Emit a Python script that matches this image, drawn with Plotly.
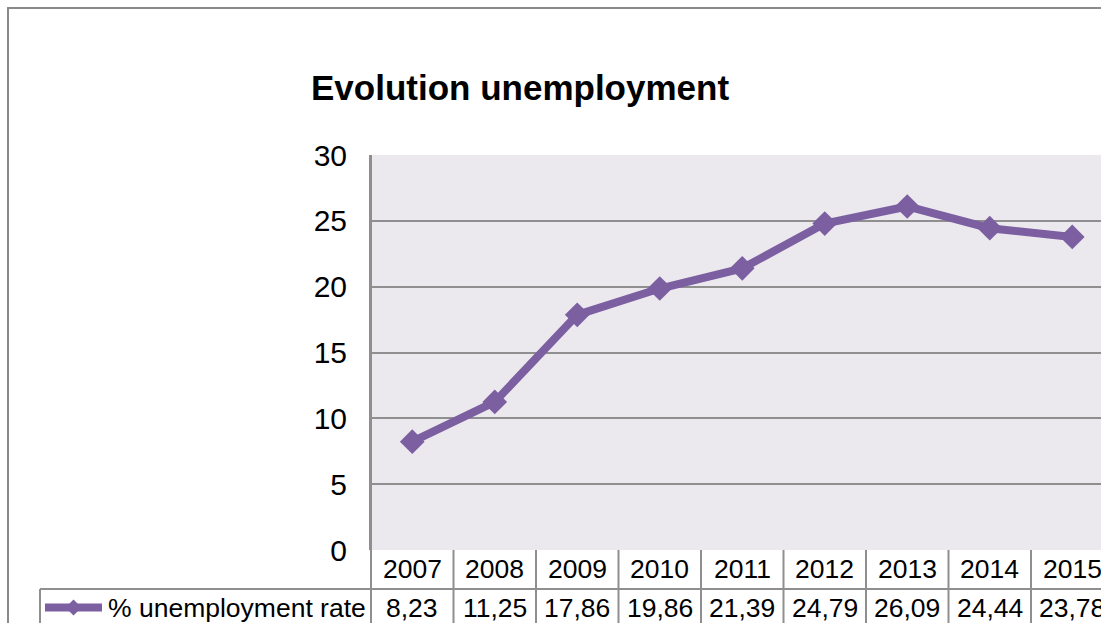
import plotly.graph_objects as go

# Data
years = ["2007", "2008", "2009", "2010", "2011", "2012", "2013", "2014", "2015"]
unemployment_rate = [8.23, 11.25, 17.86, 19.86, 21.39, 24.79, 26.09, 24.44, 23.78]
series_name = "% unemployment rate"
chart_title = "Evolution unemployment"
y_ticks = [0, 5, 10, 15, 20, 25, 30]

# Page and plot-area geometry (pixels)
W, H = 1101, 623
PLOT_L, PLOT_T, PLOT_B = 371, 155, 550
PLOT_R = W
ROW_H = 39            # height of one data-table row
LEGEND_CELL_L = 40    # left edge of the series-name cell
FRAME = 8             # outer chart frame offset
CELL_W = 82.5         # width of one category column

x_max = -0.5 + (PLOT_R - PLOT_L) / CELL_W

FONT = "Liberation Sans, Arial, sans-serif"
PURPLE = "#7C5FA1"
GRID = "#8F8F8F"
BG = "#EBE9EE"


def px_x(p):
    return (p - PLOT_L) / (PLOT_R - PLOT_L)


def px_y(p):
    return (PLOT_B - p) / (PLOT_B - PLOT_T)


fig = go.Figure()
fig.add_trace(go.Scatter(
    x=list(range(len(years))),
    y=unemployment_rate,
    mode="lines+markers",
    name=series_name,
    line=dict(color=PURPLE, width=8),
    marker=dict(symbol="diamond", size=19, color=PURPLE),
    cliponaxis=False,
    showlegend=False,
))

shapes = []
line_style = dict(color=GRID, width=2)

# Outer chart frame
shapes.append(dict(type="rect", xref="paper", yref="paper",
                   x0=px_x(FRAME), x1=1.5, y0=px_y(FRAME), y1=px_y(H + 100),
                   line=dict(color="#8A8A8A", width=2), fillcolor="rgba(0,0,0,0)",
                   layer="below"))

row1_bottom = PLOT_B + ROW_H
bottom_out = H + 50

# Data-table horizontal rule
shapes.append(dict(type="line", xref="paper", yref="paper",
                   x0=px_x(LEGEND_CELL_L), x1=1.2, y0=px_y(row1_bottom), y1=px_y(row1_bottom),
                   line=line_style))
# Left edges
shapes.append(dict(type="line", xref="paper", yref="paper",
                   x0=px_x(LEGEND_CELL_L), x1=px_x(LEGEND_CELL_L),
                   y0=px_y(row1_bottom), y1=px_y(bottom_out), line=line_style))
shapes.append(dict(type="line", xref="paper", yref="paper",
                   x0=0, x1=0, y0=1, y1=px_y(bottom_out), line=line_style))
# Column separators between categories
for k in range(len(years)):
    xb = k + 0.5
    shapes.append(dict(type="line", xref="x", yref="paper",
                       x0=xb, x1=xb, y0=0, y1=px_y(bottom_out), line=line_style))

# Legend key inside the series-name cell
key_x0, key_x1 = LEGEND_CELL_L + 5, LEGEND_CELL_L + 62
ky = row1_bottom + ROW_H / 2 - 1
key_y = px_y(ky)
shapes.append(dict(type="line", xref="paper", yref="paper",
                   x0=px_x(key_x0), x1=px_x(key_x1), y0=key_y, y1=key_y,
                   line=dict(color=PURPLE, width=8)))
kx = (key_x0 + key_x1) / 2
d = 8
shapes.append(dict(type="path", xref="paper", yref="paper",
                   path=(f"M {px_x(kx - d)} {px_y(ky)} L {px_x(kx)} {px_y(ky - d)} "
                         f"L {px_x(kx + d)} {px_y(ky)} L {px_x(kx)} {px_y(ky + d)} Z"),
                   fillcolor=PURPLE, line=dict(color=PURPLE, width=0)))

annotations = []
table_font = dict(family=FONT, size=26.5, color="#000000")
year_row_y = px_y(PLOT_B + ROW_H / 2 - 1)
value_row_y = px_y(row1_bottom + ROW_H / 2 - 1)
for k, (yr, val) in enumerate(zip(years, unemployment_rate)):
    annotations.append(dict(x=k, y=year_row_y, xref="x", yref="paper",
                            text=yr, showarrow=False, font=table_font,
                            xanchor="center", yanchor="middle"))
    annotations.append(dict(x=k, y=value_row_y, xref="x", yref="paper",
                            text=f"{val:.2f}".replace(".", ","), showarrow=False,
                            font=table_font, xanchor="center", yanchor="middle"))
annotations.append(dict(x=px_x(PLOT_L - 3), y=value_row_y,
                        xref="paper", yref="paper", text=series_name, showarrow=False,
                        font=table_font, xanchor="right", yanchor="middle"))

fig.update_layout(
    width=W, height=H, autosize=False,
    margin=dict(l=PLOT_L, r=W - PLOT_R, t=PLOT_T, b=H - PLOT_B, pad=0),
    paper_bgcolor="#FFFFFF",
    plot_bgcolor=BG,
    title=dict(text=f"<b>{chart_title}</b>", x=311 / W, xanchor="left", xref="container",
               y=1 - 88 / H, yanchor="middle", yref="container",
               font=dict(family=FONT, size=35, color="#000000")),
    xaxis=dict(range=[-0.5, x_max], showticklabels=False, showgrid=False,
               zeroline=False, showline=False, ticks=""),
    yaxis=dict(range=[0, 30], tickvals=y_ticks, showgrid=True, gridcolor=GRID,
               gridwidth=2, zeroline=False, showline=True, linecolor=GRID, linewidth=2,
               ticks="", ticklabelstandoff=16,
               tickfont=dict(family=FONT, size=30, color="#000000")),
    shapes=shapes,
    annotations=annotations,
    showlegend=False,
)

fig.write_html("out.html")
